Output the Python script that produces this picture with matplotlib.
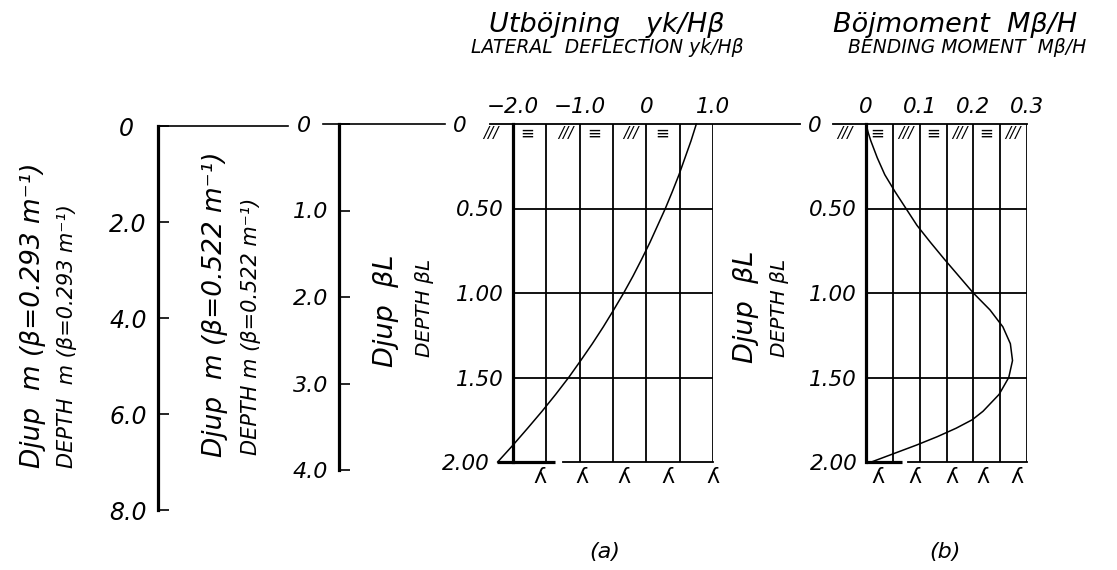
import matplotlib
matplotlib.use("Agg")
import matplotlib.pyplot as plt
from matplotlib.transforms import blended_transform_factory

# ---- scales -------------------------------------------------------------
depth_m1_ticks = [0, 2.0, 4.0, 6.0, 8.0]
depth_m1_labels = ["0", "2.0", "4.0", "6.0", "8.0"]
depth_m2_ticks = [0, 1.0, 2.0, 3.0, 4.0]
depth_m2_labels = ["0", "1.0", "2.0", "3.0", "4.0"]
depth_bl_ticks = [0, 0.5, 1.0, 1.5, 2.0]
depth_bl_labels = ["0", "0.50", "1.00", "1.50", "2.00"]
depth_bl_grid = [0.5, 1.0, 1.5]

defl_ticks = [-2.0, -1.0, 0, 1.0]
defl_labels = ["\u22122.0", "\u22121.0", "0", "1.0"]
defl_grid = [-1.5, -1.0, -0.5, 0.0, 0.5, 1.0]

moment_ticks = [0, 0.1, 0.2, 0.3]
moment_labels = ["0", "0.1", "0.2", "0.3"]
moment_grid = [0.05, 0.10, 0.15, 0.20, 0.25, 0.30]

# ---- curves -------------------------------------------------------------
defl_depth = [0.0, 0.1, 0.2, 0.3, 0.4, 0.5, 0.6, 0.7, 0.8, 0.9, 1.0,
              1.1, 1.2, 1.3, 1.4, 1.5, 1.6, 1.7, 1.8, 1.9, 2.0]
deflection = [0.75, 0.67, 0.58, 0.49, 0.39, 0.285, 0.17, 0.055, -0.07, -0.20, -0.34,
              -0.49, -0.645, -0.81, -0.985, -1.165, -1.36, -1.565, -1.78, -2.0, -2.23]

moment_depth = [0.0, 0.05, 0.1, 0.2, 0.3, 0.4, 0.5, 0.6, 0.7, 0.8, 0.9, 1.0,
                1.1, 1.2, 1.3, 1.4, 1.5, 1.6, 1.7, 1.75, 1.8, 1.85, 1.9, 1.95, 2.0]
moment = [0.0, 0.004, 0.009, 0.021, 0.035, 0.054, 0.0745, 0.095, 0.12, 0.146, 0.173, 0.2,
          0.231, 0.255, 0.269, 0.273, 0.266, 0.248, 0.218, 0.198, 0.168, 0.133, 0.094, 0.052, 0.01]

# ---- figure -------------------------------------------------------------
W, H = 1117, 570
plt.rcParams["font.family"] = ["DejaVu Sans"]
plt.rcParams["font.style"] = "italic"
fig = plt.figure(figsize=(W / 100, H / 100), dpi=100)

THICK = 2.3
GRID = 1.3
CURVE = 1.1


def box(x0, y0, x1, y1):
    return [x0 / W, 1 - y1 / H, (x1 - x0) / W, (y1 - y0) / H]


def ftext(x, y, s, **kw):
    return fig.text(x / W, 1 - y / H, s, **kw)


def bare_axes(x0, y0, x1, y1):
    ax = fig.add_axes(box(x0, y0, x1, y1))
    ax.patch.set_alpha(0)
    for sp in ax.spines.values():
        sp.set_visible(False)
    return ax


def depth_scale(ax, ticks, labels, size):
    ax.spines["left"].set_visible(True)
    ax.spines["left"].set_linewidth(THICK)
    ax.set_xticks([])
    ax.set_yticks(ticks, labels)
    ax.tick_params(axis="y", direction="in", length=8, width=1.2, pad=8, labelsize=size)


# depth in m, beta = 0.293 1/m
ax1 = bare_axes(158, 126, 288, 510)
ax1.set_ylim(8.0, 0)
depth_scale(ax1, depth_m1_ticks, [""] + depth_m1_labels[1:], 17)
ax1.spines["top"].set_visible(True)
ax1.spines["top"].set_linewidth(1.2)
ftext(134, 126, depth_m1_labels[0], ha="right", va="center_baseline", size=17)

# depth in m, beta = 0.522 1/m
ax2 = bare_axes(339, 124, 445, 470)
ax2.set_ylim(4.0, 0)
depth_scale(ax2, depth_m2_ticks, [""] + depth_m2_labels[1:], 16)
ax2.plot([-16 / 106, 1.0], [1, 1], color="k", lw=1.2, transform=ax2.transAxes, clip_on=False)
ftext(311, 124, depth_m2_labels[0], ha="right", va="center_baseline", size=16)


def panel(x0, x1, xlim, grid, ticks, labels, top_from, top_to, thick_end, thin_start,
          zero_x, end_label_x, hatch, hatch_left, feet):
    ax = bare_axes(x0, 124, x1, 462)
    ax.set_xlim(*xlim)
    ax.set_ylim(2.0, 0)
    ax.spines["left"].set_visible(True)
    ax.spines["left"].set_linewidth(THICK)
    for g in grid:
        ax.axvline(g, color="k", lw=GRID)
    for g in depth_bl_grid:
        ax.axhline(g, color="k", lw=GRID)
    w = x1 - x0
    ax.plot([(top_from - x0) / w, (top_to - x0) / w], [1, 1], color="k", lw=1.3,
            transform=ax.transAxes, clip_on=False)
    # pile toe
    span = xlim[1] - xlim[0]
    ax.plot([xlim[0] + span * (thick_end[0] - x0) / w,
             xlim[0] + span * (thick_end[1] - x0) / w], [2.0, 2.0],
            color="k", lw=THICK, clip_on=False, solid_capstyle="butt")
    ax.plot([xlim[0] + span * (thin_start - x0) / w, xlim[1]], [2.0, 2.0],
            color="k", lw=GRID, clip_on=False)
    ax.xaxis.tick_top()
    ax.set_xticks(ticks, labels)
    ax.tick_params(axis="x", length=0, pad=5, labelsize=15.5)
    ax.set_yticks(depth_bl_ticks[1:-1], depth_bl_labels[1:-1])
    ax.tick_params(axis="y", length=0, pad=7, labelsize=15.5)
    ftext(zero_x, 124, depth_bl_labels[0], ha="right", va="center_baseline", size=15.5)
    ftext(end_label_x, 462, depth_bl_labels[-1], ha="right", va="center_baseline", size=15.5)
    # soil / water symbols under the ground line
    tr = blended_transform_factory(ax.transData, ax.transAxes)
    ax.text(hatch_left, 0.972, "///", transform=tr, ha="center", va="center", size=11,
            clip_on=False)
    for xc, sym in hatch:
        ax.text(xc, 0.972, sym, transform=tr, ha="center", va="center",
                size=11 if sym == "///" else 12, clip_on=False)
    for xc in feet:
        ax.text(xc, -0.045, "\u028e", transform=tr, ha="center", va="center", size=16,
                style="normal", clip_on=False)
    return ax


ax_a = panel(513, 713, (-2.0, 1.0), defl_grid, defl_ticks, defl_labels,
             490, 800, (497, 555), 563, 467, 490,
             [(-1.78, "\u2261"), (-1.21, "///"), (-0.78, "\u2261"), (-0.24, "///"), (0.24, "\u2261")],
             -2.33, [-1.6, -0.97, -0.33, 0.33, 1.0])
ax_a.plot(deflection, defl_depth, color="k", lw=CURVE, clip_on=False)

ax_b = panel(866, 1027, (0.0, 0.3), moment_grid, moment_ticks, moment_labels,
             833, 1027, (866, 902), 908, 822, 858,
             [(0.021, "\u2261"), (0.075, "///"), (0.125, "\u2261"), (0.175, "///"),
              (0.224, "\u2261"), (0.274, "///")],
             -0.04, [0.022, 0.091, 0.160, 0.218, 0.282])
ax_b.plot(moment, moment_depth, color="k", lw=CURVE, clip_on=False)

# ---- headings -----------------------------------------------------------
ftext(607, 32, "Utböjning   yk/H\u03b2", ha="center", va="baseline", size=19.5)
ftext(607, 53, "LATERAL  DEFLECTION yk/H\u03b2", ha="center", va="baseline", size=13.5)
ftext(955, 32, "Böjmoment  M\u03b2/H", ha="center", va="baseline", size=19.5)
ftext(967, 53, "BENDING MOMENT  M\u03b2/H", ha="center", va="baseline", size=13.5)

# ---- axis titles (vertical) ---------------------------------------------
def vlabel(x, y, s, size):
    ftext(x, y, s, rotation=90, rotation_mode="anchor", ha="left", va="baseline", size=size)


vlabel(40, 468, "Djup  m (\u03b2=0.293 m\u207b\u00b9)", 19)
vlabel(73, 468, "DEPTH  m (\u03b2=0.293 m\u207b\u00b9)", 15)
vlabel(222, 457, "Djup  m (\u03b2=0.522 m\u207b\u00b9)", 19)
vlabel(257, 455, "DEPTH m (\u03b2=0.522 m\u207b\u00b9)", 15)
vlabel(393, 367, "Djup  \u03b2L", 19.5)
vlabel(430, 357, "DEPTH \u03b2L", 14.5)
vlabel(753, 363, "Djup  \u03b2L", 19.5)
vlabel(785, 357, "DEPTH \u03b2L", 14.5)

ftext(605, 552, "(a)", ha="center", va="center", size=16)
ftext(945, 552, "(b)", ha="center", va="center", size=16)

fig.savefig("out.png", dpi=100)
